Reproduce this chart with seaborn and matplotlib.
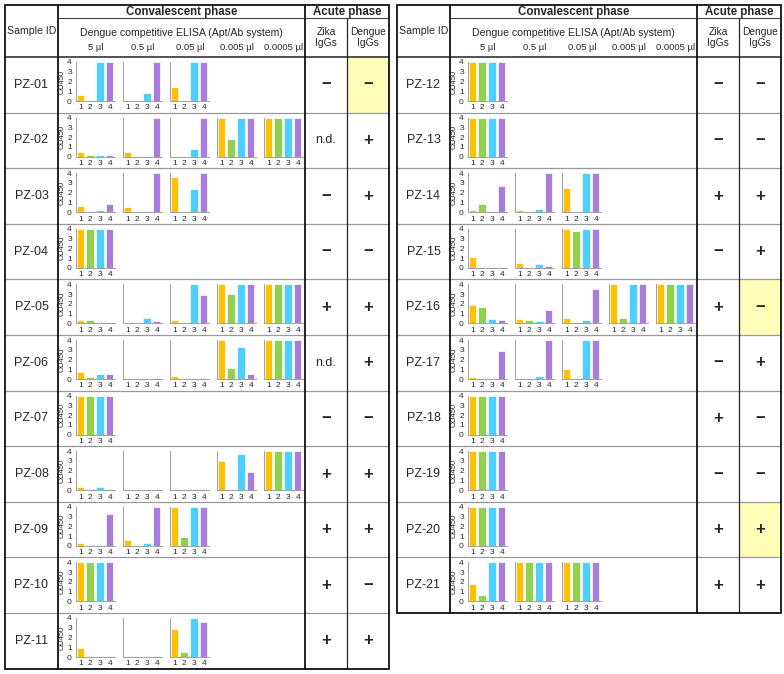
import matplotlib
matplotlib.use("Agg")
import matplotlib.pyplot as plt
import seaborn as sns
import pandas as pd
from matplotlib.patches import Rectangle

sns.set_style("white")
plt.rcParams['font.family'] = ['Liberation Sans', 'DejaVu Sans']

# ---------------- data ----------------
wells = ["1", "2", "3", "4"]
bar_colors = ["#FFC000", "#92D050", "#4DCFFF", "#A97BDB"]
doses = ["5 µl", "0.5 µl", "0.05 µl", "0.005 µl", "0.0005 µl"]

# OD450 per dose (each inner list = wells 1-4)
pz01 = [[0.6, 0.1, 4, 4], [0.1, 0.05, 0.85, 4], [1.45, 0.05, 4, 4]]
pz02 = [[0.45, 0.15, 0.15, 0.2], [0.45, 0.05, 0.1, 4], [0.05, 0.05, 0.75, 4], [4, 1.8, 4, 4], [4, 4, 4, 4]]
pz03 = [[0.6, 0.15, 0.2, 0.8], [0.5, 0.05, 0.1, 4], [3.6, 0.15, 2.35, 4]]
pz04 = [[4, 4, 4, 4]]
pz05 = [[0.35, 0.3, 0.1, 0.1], [0.05, 0.05, 0.6, 0.2], [0.35, 0.02, 4, 2.9], [4, 3.05, 4, 4], [4, 4, 4, 4]]
pz06 = [[0.75, 0.2, 0.5, 0.5], [0.1, 0.05, 0.05, 0.1], [0.35, 0.1, 0.05, 0.1], [4, 1.15, 3.25, 0.55], [4, 4, 4, 4]]
pz07 = [[4, 4, 4, 4]]
pz08 = [[0.3, 0.1, 0.3, 0.15], [0.05, 0.05, 0.05, 0.05], [0.1, 0.05, 0.1, 0.1], [2.95, 0.15, 3.75, 1.85], [4, 4, 4, 4]]
pz09 = [[0.3, 0.1, 0.1, 3.3], [0.6, 0.05, 0.25, 4], [4, 0.95, 4, 4]]
pz10 = [[4, 4, 4, 4]]
pz11 = [[0.95, 0.1, 0.1, 0.1], [0.1, 0.05, 0.05, 0.1], [2.9, 0.5, 4, 3.6]]
pz12 = [[4, 4, 4, 4]]
pz13 = [[4, 4, 4, 4]]
pz14 = [[0.2, 0.85, 0.15, 2.7], [0.2, 0.05, 0.35, 4], [2.5, 0.05, 4, 4]]
pz15 = [[1.15, 0.1, 0.1, 0.1], [0.5, 0.1, 0.4, 0.2], [4, 3.8, 4, 4]]
pz16 = [[1.9, 1.65, 0.5, 0.4], [0.45, 0.3, 0.2, 1.35], [0.55, 0.1, 0.3, 3.5], [4, 0.6, 4, 4], [4, 4, 4, 4]]
pz17 = [[0.25, 0.1, 0.15, 2.9], [0.05, 0.05, 0.3, 4], [1.05, 0.1, 4, 4]]
pz18 = [[4, 4, 4, 4]]
pz19 = [[4, 4, 4, 4]]
pz20 = [[4, 4, 4, 4]]
pz21 = [[1.75, 0.65, 4, 4], [4, 4, 4, 4], [4, 4, 4, 4]]

left_ids = ["PZ-01", "PZ-02", "PZ-03", "PZ-04", "PZ-05", "PZ-06", "PZ-07", "PZ-08", "PZ-09", "PZ-10", "PZ-11"]
left_od = [pz01, pz02, pz03, pz04, pz05, pz06, pz07, pz08, pz09, pz10, pz11]
left_zika = ["−", "n.d.", "−", "−", "+", "n.d.", "−", "+", "+", "+", "+"]
left_dengue = ["−", "+", "+", "−", "+", "+", "−", "+", "+", "−", "+"]
left_highlight = ["PZ-01"]

right_ids = ["PZ-12", "PZ-13", "PZ-14", "PZ-15", "PZ-16", "PZ-17", "PZ-18", "PZ-19", "PZ-20", "PZ-21"]
right_od = [pz12, pz13, pz14, pz15, pz16, pz17, pz18, pz19, pz20, pz21]
right_zika = ["−", "−", "+", "−", "+", "−", "+", "−", "+", "+"]
right_dengue = ["−", "−", "+", "+", "−", "+", "−", "−", "+", "+"]
right_highlight = ["PZ-16", "PZ-20"]

# ---------------- layout ----------------
W, H = 784, 674
fig = plt.figure(figsize=(W / 100, H / 100), dpi=100)
ov = fig.add_axes([0, 0, 1, 1], zorder=0)
ov.set_xlim(0, W)
ov.set_ylim(H, 0)
ov.axis("off")

TOP, MID, HDR = 5, 18, 57
ROW_H = 55.6
GREY = "#9a9a9a"


def px_axes(x0, y0, w, h):
    return fig.add_axes([x0 / W, 1 - (y0 + h) / H, w / W, h / H], zorder=2)


def draw_table(off, ids, ods, zika, dengue, highlight):
    xs = [5 + off, 58 + off, 305 + off, 347 + off, 389 + off]
    n = len(ids)
    bottom = HDR + n * ROW_H
    # highlights
    for i, sid in enumerate(ids):
        if sid in highlight:
            rt = HDR + i * ROW_H
            ov.add_patch(Rectangle((xs[3], rt), xs[4] - xs[3], ROW_H,
                                   facecolor="#FFFDB8", edgecolor="none", zorder=0))
    # row separators
    for i in range(1, n):
        y = HDR + i * ROW_H
        ov.plot([xs[0], xs[4]], [y, y], color=GREY, lw=0.9, zorder=1)
    # header lines
    ov.plot([xs[1], xs[4]], [MID, MID], color="#444444", lw=0.8, zorder=1)
    ov.plot([xs[0], xs[4]], [HDR, HDR], color="#222222", lw=1.1, zorder=1)
    # verticals
    for x in [xs[1], xs[2]]:
        ov.plot([x, x], [TOP, bottom], color="#111111", lw=1.3, zorder=1)
    ov.plot([xs[3], xs[3]], [MID, bottom], color="#222222", lw=0.9, zorder=1)
    ov.add_patch(Rectangle((xs[0], TOP), xs[4] - xs[0], bottom - TOP,
                           fill=False, edgecolor="#111111", lw=1.3, zorder=1))
    # header text
    cx = (xs[1] + xs[2]) / 2
    ov.text((xs[0] + xs[1]) / 2, 31, "Sample ID", ha="center", va="center", fontsize=7.6)
    ov.text(cx, 12.5, "Convalescent phase", ha="center", va="center", fontsize=8.3, fontweight="bold")
    ov.text((xs[2] + xs[4]) / 2, 12.5, "Acute phase", ha="center", va="center", fontsize=8.3, fontweight="bold")
    ov.text(cx, 32.5, "Dengue competitive ELISA (Apt/Ab system)", ha="center", va="center", fontsize=7.6)
    for k, d in enumerate(doses):
        ov.text(xs[1] + 18 + k * 47 + 20, 48, d, ha="center", va="center", fontsize=6.8)
    ov.text((xs[2] + xs[3]) / 2, 37.5, "Zika\nIgGs", ha="center", va="center", fontsize=7.4, linespacing=1.15)
    ov.text((xs[3] + xs[4]) / 2, 37.5, "Dengue\nIgGs", ha="center", va="center", fontsize=7.4, linespacing=1.15)
    # rows
    for i, sid in enumerate(ids):
        rt = HDR + i * ROW_H
        cy = rt + ROW_H / 2
        ov.text((xs[0] + xs[1]) / 2, cy, sid, ha="center", va="center", fontsize=9)
        for col, val in [((xs[2] + xs[3]) / 2, zika[i]), ((xs[3] + xs[4]) / 2, dengue[i])]:
            if val == "n.d.":
                ov.text(col, cy, val, ha="center", va="center", fontsize=9)
            else:
                ov.text(col, cy, val, ha="center", va="center", fontsize=12, fontweight="bold")
        for k, vals in enumerate(ods[i]):
            ax = px_axes(xs[1] + 18 + k * 47, rt + 5, 39, 39)
            df = pd.DataFrame({"well": wells, "od": vals})
            sns.barplot(data=df, x="well", y="od", hue="well", palette=bar_colors,
                        legend=False, ax=ax, width=0.75, edgecolor="white", linewidth=0.5,
                        saturation=1)
            ax.set_xlim(-0.45, 3.55)
            ax.set_ylim(0, 4)
            ax.set_yticks([0, 1, 2, 3, 4])
            ax.patch.set_alpha(0)
            for s in ["top", "right"]:
                ax.spines[s].set_visible(False)
            for s in ["left", "bottom"]:
                ax.spines[s].set_color("#a0a0a0")
                ax.spines[s].set_linewidth(0.7)
            ax.tick_params(axis="both", labelsize=6, length=2, width=0.6, color="#a0a0a0", pad=1)
            ax.tick_params(axis="x", length=1.5)
            ax.set_xlabel("")
            if k == 0:
                ax.set_ylabel("OD450", fontsize=5.5, labelpad=1)
            else:
                ax.set_ylabel("")
                ax.set_yticklabels([])


draw_table(0, left_ids, left_od, left_zika, left_dengue, left_highlight)
draw_table(392, right_ids, right_od, right_zika, right_dengue, right_highlight)

fig.savefig("out.png", dpi=100, facecolor="white")
